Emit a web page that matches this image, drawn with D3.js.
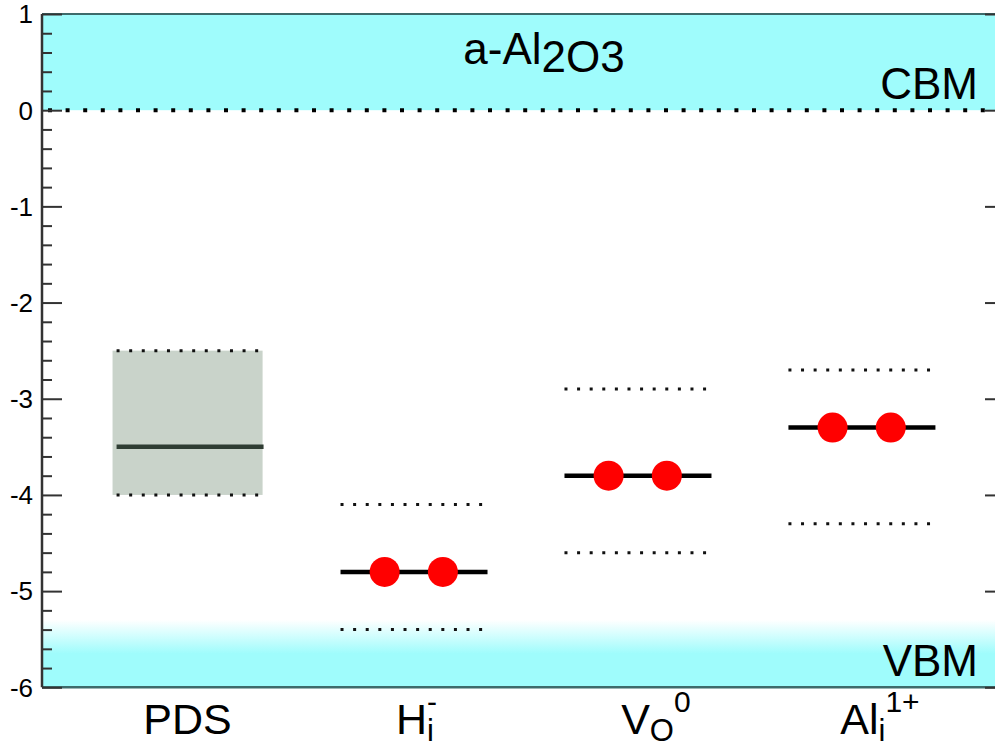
<!DOCTYPE html>
<html><head><meta charset="utf-8">
<script src="https://cdn.jsdelivr.net/npm/d3@7"></script>
<style>body{margin:0;background:#fff}svg{display:block}text{font-family:"Liberation Sans",Arial,sans-serif;fill:#000}</style>
</head><body><svg id="c" width="995" height="747"></svg>
<script>
// ---- data ----
const categories = ["PDS", "H_i^-", "V_O^0", "Al_i^1+"];
const labelBase = ["PDS", "H", "V", "Al"];
const labelSub  = ["", "i", "O", "i"];
const labelSup  = ["", "-", "0", "1+"];
const levels = [-3.5, -4.8, -3.8, -3.3];
const upper  = [-2.5, -4.1, -2.9, -2.7];
const lower  = [-4.0, -5.4, -4.6, -4.3];
const hasDots = [false, true, true, true];
const dotOffsets = [-0.12, 0.14];
const yTicks = [1, 0, -1, -2, -3, -4, -5, -6];
const cbBand = [0, 1];
const vbBand = [-6, -5.3];

const svg = d3.select("#c");
const x = d3.scaleLinear().domain([0.35, 4.65]).range([42, 1005]);
const y = d3.scaleLinear().domain([-6, 1]).range([687.3, 14]);
const cyan = "#9ffcfc";

const defs = svg.append("defs");
const g = defs.append("linearGradient").attr("id", "vbg").attr("x1", 0).attr("x2", 0).attr("y1", 0).attr("y2", 1);
g.append("stop").attr("offset", "0%").attr("stop-color", "#ffffff");
g.append("stop").attr("offset", "50%").attr("stop-color", cyan);
g.append("stop").attr("offset", "100%").attr("stop-color", cyan);

// bands
svg.append("rect").attr("x", x.range()[0]).attr("width", x.range()[1] - x.range()[0])
  .attr("y", y(cbBand[1])).attr("height", y(cbBand[0]) - y(cbBand[1])).attr("fill", cyan);
svg.append("rect").attr("x", x.range()[0]).attr("width", x.range()[1] - x.range()[0])
  .attr("y", y(vbBand[1])).attr("height", y(vbBand[0]) - y(vbBand[1])).attr("fill", "url(#vbg)");

// borders top/bottom
svg.append("line").attr("x1", 42).attr("x2", 1005).attr("y1", y(1)).attr("y2", y(1)).attr("stroke", "#3d6b6b").attr("stroke-width", 2);
svg.append("line").attr("x1", 42).attr("x2", 1005).attr("y1", y(-6)).attr("y2", y(-6)).attr("stroke", "#3d6b6b").attr("stroke-width", 2.5);

// zero dotted line
svg.append("line").attr("x1", 48).attr("x2", 1005).attr("y1", y(0)).attr("y2", y(0))
  .attr("stroke", "#000").attr("stroke-width", 4).attr("stroke-dasharray", "4,13.6");

// PDS box
const idx = d3.range(categories.length);
svg.selectAll("rect.box").data(idx.filter(i => !hasDots[i])).join("rect").attr("class", "box")
  .attr("x", i => x(i + 1 - 0.335)).attr("width", i => x(i + 1.335) - x(i + 1 - 0.335))
  .attr("y", i => y(upper[i])).attr("height", i => y(lower[i]) - y(upper[i]))
  .attr("fill", "#c9d3ca");

// dotted bounds
const bounds = idx.flatMap(i => [{i, v: upper[i]}, {i, v: lower[i]}]);
svg.selectAll("line.bd").data(bounds).join("line").attr("class", "bd")
  .attr("x1", d => x(d.i + 1) - 71).attr("x2", d => x(d.i + 1) + 74)
  .attr("y1", d => y(d.v)).attr("y2", d => y(d.v))
  .attr("stroke", "#111").attr("stroke-width", 3).attr("stroke-dasharray", "3,9.6");

// level lines
svg.selectAll("line.lv").data(idx).join("line").attr("class", "lv")
  .attr("x1", i => x(i + 1) - 71).attr("x2", i => x(i + 1) + 76)
  .attr("y1", i => y(levels[i])).attr("y2", i => y(levels[i]))
  .attr("stroke", i => hasDots[i] ? "#000" : "#2f3d33").attr("stroke-width", 4.5);

// dots
const dots = idx.filter(i => hasDots[i]).flatMap(i => dotOffsets.map(o => ({i, o})));
svg.selectAll("circle.dt").data(dots).join("circle").attr("class", "dt")
  .attr("cx", d => x(d.i + 1 + d.o)).attr("cy", d => y(levels[d.i])).attr("r", 15).attr("fill", "#ff0000");

// left axis
const minorVals = d3.range(-6, 1.001, 0.2).map(v => Math.round(v * 10) / 10);
const axL = svg.append("g").attr("transform", "translate(42,0)")
  .call(d3.axisRight(y).tickValues(minorVals).tickSize(10).tickFormat(""));
axL.selectAll(".tick line").filter(d => Number.isInteger(d)).attr("x2", 20);
axL.select(".domain").remove();
axL.selectAll(".tick line").attr("stroke", "#333").attr("stroke-width", 2);
svg.append("line").attr("x1", 42).attr("x2", 42).attr("y1", y(1)).attr("y2", y(-6)).attr("stroke", "#333").attr("stroke-width", 2.5);

// right axis (mostly off-canvas)
const axR = svg.append("g").attr("transform", "translate(1005,0)")
  .call(d3.axisLeft(y).tickValues(minorVals).tickSize(10).tickFormat(""));
axR.selectAll(".tick line").filter(d => Number.isInteger(d)).attr("x2", -20);
axR.select(".domain").remove();
axR.selectAll(".tick line").attr("stroke", "#333").attr("stroke-width", 2);

// y tick labels
svg.selectAll("text.yl").data(yTicks).join("text").attr("class", "yl")
  .attr("x", 33).attr("y", d => y(d)).attr("dy", "0.36em").attr("text-anchor", "end")
  .attr("font-size", 26).text(d => d);

// category labels: base text centred on the category, sub/sup appended
const cl = svg.selectAll("text.cl").data(idx).join("text").attr("class", "cl")
  .attr("x", i => x(i + 1)).attr("y", 734).attr("font-size", 43);
cl.each(function(i) {
  const t = d3.select(this);
  const b = t.append("tspan").text(labelBase[i]);
  if (labelSub[i]) t.append("tspan").attr("font-size", 31).attr("dy", 7).text(labelSub[i]);
  if (labelSup[i]) {
    const s = t.append("tspan").attr("font-size", 30).attr("dy", labelSub[i] ? -29 : -20).text(labelSup[i]);
    if (labelSup[i] === "-") s.attr("dx", -7);
  }
  const w = b.node().getComputedTextLength();
  t.attr("x", x(i + 1) - w / 2);
});

// annotations
const title = svg.append("text").attr("x", 544).attr("y", 64).attr("text-anchor", "middle").attr("font-size", 44);
title.append("tspan").text("a-Al");
title.append("tspan").attr("dy", 8).text("2O3");
svg.append("text").attr("x", 978).attr("y", 99).attr("text-anchor", "end").attr("font-size", 44).text("CBM");
svg.append("text").attr("x", 978).attr("y", 676).attr("text-anchor", "end").attr("font-size", 44).text("VBM");
</script></body></html>
